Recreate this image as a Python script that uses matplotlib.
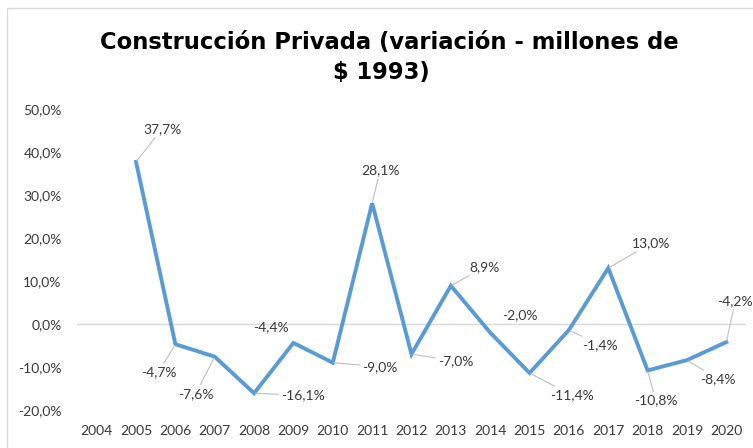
import matplotlib
matplotlib.use("Agg")
import matplotlib.pyplot as plt
from matplotlib.patches import Rectangle

years = list(range(2004, 2021))
plot_years = list(range(2005, 2021))
values = [37.7, -4.7, -7.6, -16.1, -4.4, -9.0, 28.1, -7.0, 8.9, -2.0, -11.4, -1.4, 13.0, -10.8, -8.4, -4.2]
ytick_vals = [-20, -10, 0, 10, 20, 30, 40, 50]
title_lines = ["Construcción Privada (variación - millones de", "$ 1993)"]

# label offsets in pixels (dx, dy) and whether a leader line is drawn
offsets = [(26, 33), (-17, -28), (-19, -37), (49, -2), (-23, 16), (47, -4), (8, 33), (44, -7),
           (34, 19), (30, 17), (42, -22), (31, -15), (43, 25), (8, -30), (31, -19), (9, 41)]
leaders = [True, True, True, True, False, True, True, True,
           True, False, True, True, True, True, True, True]

W, H = 753, 448
fig = plt.figure(figsize=(W / 100, H / 100), dpi=100)
fig.patch.set_facecolor("white")
fig.patches.append(Rectangle((7 / W, -0.1), 1.2, (H - 8) / H + 0.1, transform=fig.transFigure,
                             fill=False, edgecolor="#D9D9D9", linewidth=1.0))

ax = fig.add_axes([77 / W, 1 - 410 / H, (746 - 77) / W, (410 - 109) / H])
ax.set_xlim(2003.5, 2020.5)
ax.set_ylim(-20, 50)
for s in ax.spines.values():
    s.set_visible(False)
ax.axhline(0, color="#D9D9D9", linewidth=1.0, zorder=1)

ax.plot(plot_years, values, color="#5B9BD5", linewidth=2.8, solid_joinstyle="miter", zorder=3)

lab_font = "Lato"
txt_col = "#3A3A3A"
fs = 10
ax.set_xticks(years)
ax.set_xticklabels([str(y) for y in years], fontsize=fs, fontfamily=lab_font, color=txt_col)
ax.set_yticks(ytick_vals)
ax.set_yticklabels([f"{v:.1f}%".replace(".", ",") for v in ytick_vals], fontsize=fs,
                   fontfamily=lab_font, color=txt_col)
ax.tick_params(axis="both", length=0)
ax.tick_params(axis="y", pad=11)
ax.tick_params(axis="x", pad=11)

for x, v, (dx, dy), lead in zip(plot_years, values, offsets, leaders):
    label = f"{v:.1f}%".replace(".", ",")
    kw = {}
    if lead:
        kw["arrowprops"] = dict(arrowstyle="-", color="#BFBFBF", linewidth=0.8,
                                shrinkA=0, shrinkB=1)
    ax.annotate(label, xy=(x, v), xytext=(dx, dy), textcoords="offset pixels",
                ha="center", va="center", fontsize=fs, fontfamily=lab_font,
                color=txt_col, **kw)

for (cx, cy), line in zip([(389, 42), (381, 73)], title_lines):
    fig.text(cx / W, 1 - cy / H, line, ha="center", va="center", fontsize=16.3,
             fontweight="bold", fontfamily="DejaVu Sans", color="black")

fig.savefig("out.png", dpi=100)
